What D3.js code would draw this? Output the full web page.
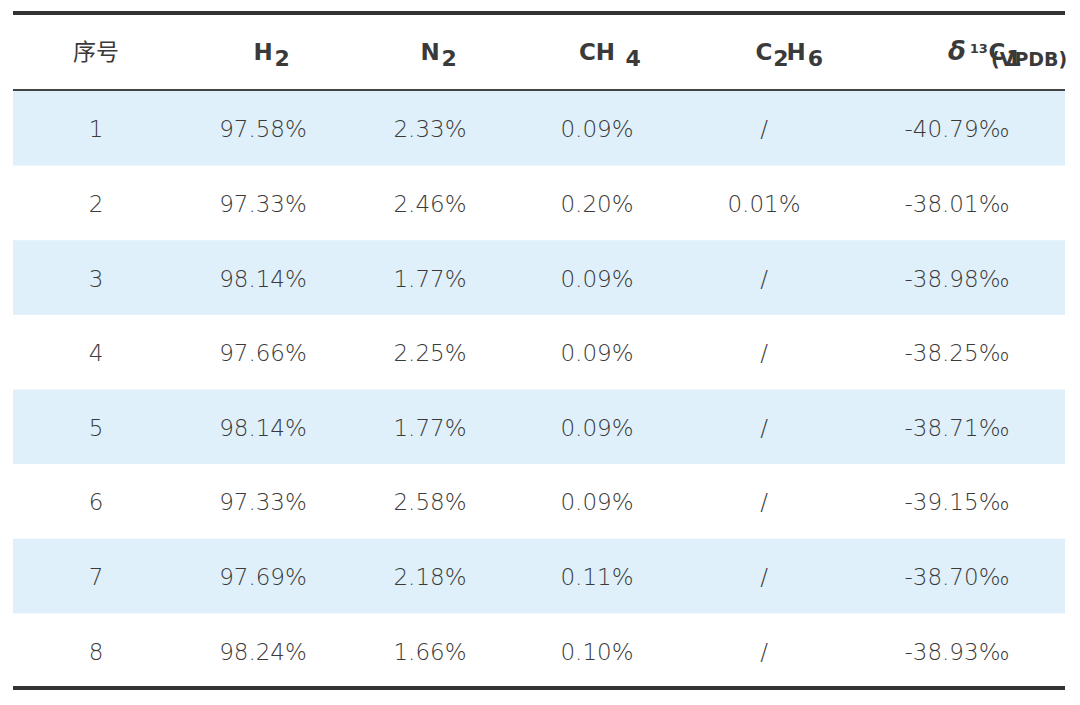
<!DOCTYPE html>
<html><head><meta charset="utf-8">
<script src="https://cdn.jsdelivr.net/npm/d3@7"></script>
<style>body{margin:0;background:#fff}text{font-family:"DejaVu Sans",Verdana,sans-serif;fill:#3a3a3a}</style>
</head><body>
<script>
// header parts: [text, kind] kind 0 normal, 1 subscript, 2 superscript, 3 small baseline-low
var headers = [
  [["序号",0]],
  [["H",0],["2",1]],
  [["N",0],["2",1]],
  [["CH",0],["4",1]],
  [["C",0],["2",1],["H",0],["6",1]],
  [["δ",4],["13",2],["C",0],["1",1],["(VPDB)",3]]
];
var ids = ["1","2","3","4","5","6","7","8"];
var h2 = ["97.58%","97.33%","98.14%","97.66%","98.14%","97.33%","97.69%","98.24%"];
var n2 = ["2.33%","2.46%","1.77%","2.25%","1.77%","2.58%","2.18%","1.66%"];
var ch4 = ["0.09%","0.20%","0.09%","0.09%","0.09%","0.09%","0.11%","0.10%"];
var c2h6 = ["/","0.01%","/","/","/","/","/","/"];
var d13c = ["-40.79‰","-38.01‰","-38.98‰","-38.25‰","-38.71‰","-39.15‰","-38.70‰","-38.93‰"];

var W = 1080, H = 705;
var svg = d3.select("body").append("svg").attr("width", W).attr("height", H);

var colX = d3.scaleOrdinal().domain(d3.range(6)).range([96, 263, 430, 597, 764, 957]);
var rowY = d3.scaleBand().domain(ids).range([91, 688]);
var left = 13, right = 1065;
var hy = 60;

svg.selectAll("rect.stripe").data(ids.filter(function(d,i){return i%2==0;}))
  .enter().append("rect")
  .attr("x", left).attr("width", right-left)
  .attr("y", function(d){return rowY(d);}).attr("height", rowY.bandwidth())
  .attr("fill", "#dff0fa");

svg.append("rect").attr("x",left).attr("y",11).attr("width",right-left).attr("height",4).attr("fill","#333");
svg.append("rect").attr("x",left).attr("y",89).attr("width",right-left).attr("height",2).attr("fill","#444");
svg.append("rect").attr("x",left).attr("y",686).attr("width",right-left).attr("height",4).attr("fill","#333");

headers.forEach(function(parts,i){
  var t = svg.append("text").attr("x", colX(i)).attr("y", hy)
    .attr("text-anchor","middle").attr("font-size", 23)
    .attr("font-weight", i==0 ? "normal" : "bold");
  if(i==0) t.style("font-family","'Noto Sans CJK SC',sans-serif");
  parts.forEach(function(p){
    var s = t.append("tspan").text(p[0]);
    if(p[1]==0) s.attr("y", hy);
    else if(p[1]==1) s.attr("y", hy+6).attr("font-size",22);
    else if(p[1]==2) s.attr("y", hy-7).attr("font-size",13).attr("dx",4);
    else if(p[1]==3) s.attr("y", hy+6).attr("font-size",19);
    else if(p[1]==4) s.attr("y", hy).attr("font-size",26).attr("font-style","italic");
  });
});

var cols = [ids, h2, n2, ch4, c2h6, d13c];
cols.forEach(function(col,ci){
  svg.selectAll("text.c"+ci).data(col).enter().append("text")
    .attr("class","c"+ci)
    .attr("x", colX(ci))
    .attr("y", function(d,i){return rowY(ids[i]) + rowY.bandwidth()/2 + 9;})
    .attr("text-anchor","middle").attr("font-size",23)
    .style("font-weight", 300)
    .text(function(d){return d;});
});
</script>
</body></html>
